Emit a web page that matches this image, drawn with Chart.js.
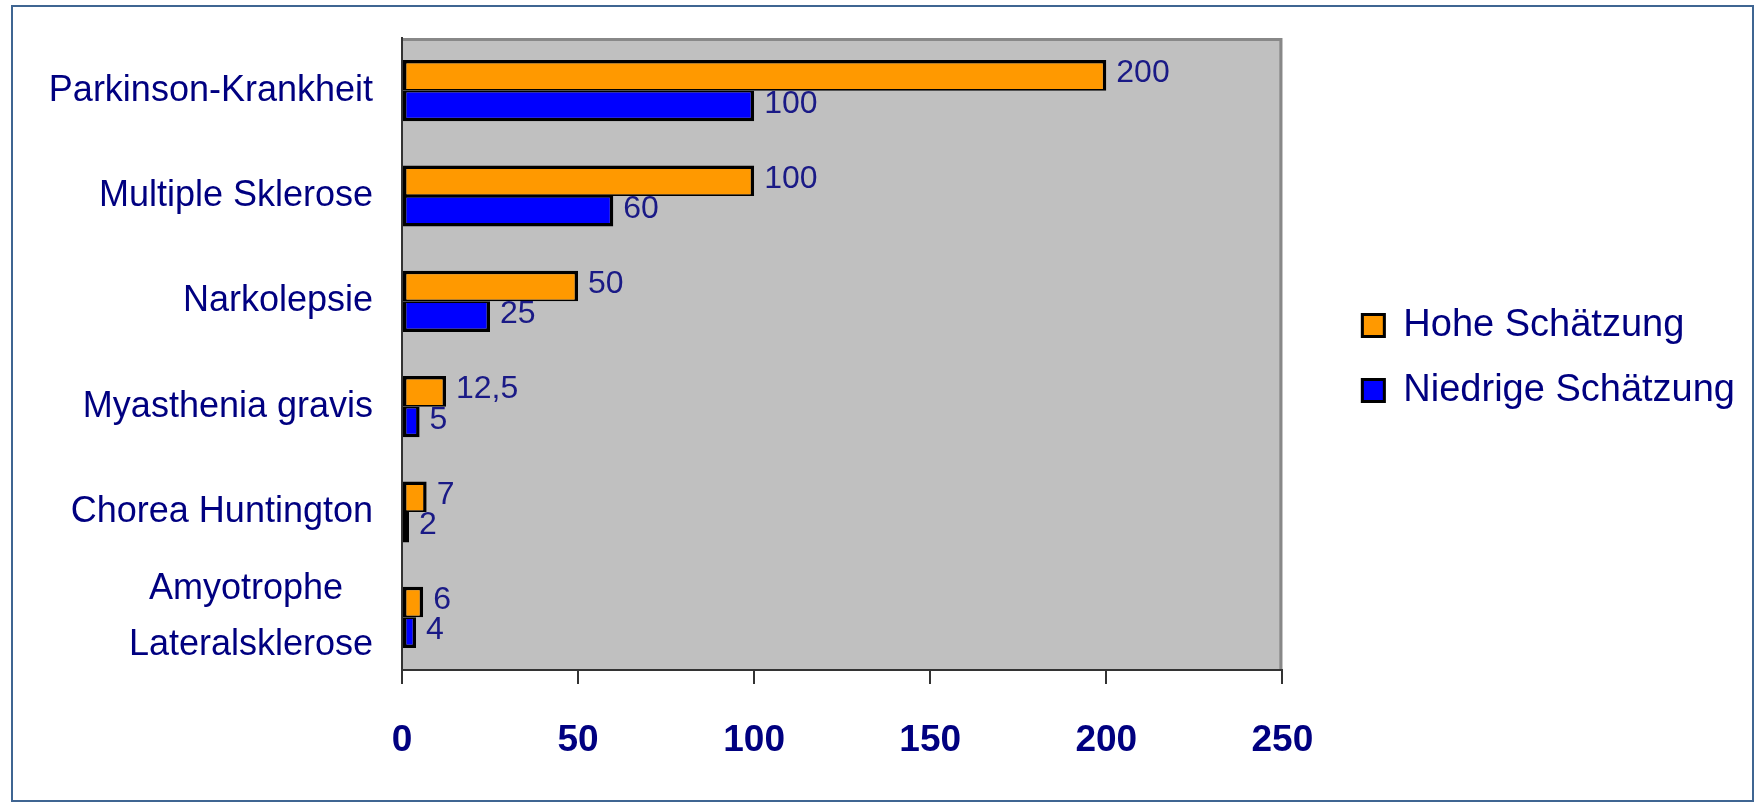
<!DOCTYPE html>
<html>
<head>
<meta charset="utf-8">
<title>Schätzungen</title>
<script src="https://cdn.jsdelivr.net/npm/chart.js@4/dist/chart.umd.min.js"></script>
<style>
  html, body { margin: 0; padding: 0; background: #ffffff; }
  #wrap { position: relative; width: 1754px; height: 803px; }
  #diseaseChart { display: block; }
  #frame {
    position: absolute; left: 11px; top: 5px; width: 1739px; height: 793px;
    border: 2px solid #3f6592; pointer-events: none;
  }
</style>
</head>
<body>
<div id="wrap">
  <canvas id="diseaseChart" width="1754" height="803"></canvas>
  <div id="frame"></div>
</div>
<script>
var diseases = [
  "Parkinson-Krankheit",
  "Multiple Sklerose",
  "Narkolepsie",
  "Myasthenia gravis",
  "Chorea Huntington",
  ["Amyotrophe\u00a0\u00a0\u00a0", "Lateralsklerose"]
];
var seriesNames = ["Hohe Schätzung", "Niedrige Schätzung"];
var highEstimate = [200, 100, 50, 12.5, 7, 6];
var lowEstimate = [100, 60, 25, 5, 2, 4];
var xTicks = [0, 50, 100, 150, 200, 250];

var navy = "#000080";
var fontFamily = "'Liberation Sans', Arial, sans-serif";

// grey plot area with a darker edge on top and right
var plotBackground = {
  id: "plotBackground",
  beforeDraw: function(chart) {
    var a = chart.chartArea;
    var ctx = chart.ctx;
    ctx.save();
    ctx.fillStyle = "#c0c0c0";
    ctx.fillRect(a.left, a.top, a.right - a.left, a.bottom - a.top);
    ctx.strokeStyle = "#888888";
    ctx.lineWidth = 3;
    ctx.beginPath();
    ctx.moveTo(a.left, a.top + 1.5);
    ctx.lineTo(a.right - 1.5, a.top + 1.5);
    ctx.lineTo(a.right - 1.5, a.bottom);
    ctx.stroke();
    ctx.restore();
  }
};

// value next to the end of each bar, German decimal comma
var valueLabels = {
  id: "valueLabels",
  afterDatasetsDraw: function(chart) {
    var ctx = chart.ctx;
    ctx.save();
    ctx.font = "32px " + fontFamily;
    ctx.fillStyle = "#1a1a86";
    ctx.textAlign = "left";
    ctx.textBaseline = "middle";
    chart.data.datasets.forEach(function(ds, i) {
      chart.getDatasetMeta(i).data.forEach(function(bar, j) {
        var txt = String(ds.data[j]).replace(".", ",");
        ctx.fillText(txt, bar.x + 10, bar.y - 2);
      });
    });
    ctx.restore();
  }
};

var ctx = document.getElementById("diseaseChart").getContext("2d");

new Chart(ctx, {
  type: "bar",
  data: {
    labels: diseases,
    datasets: [
      {
        label: seriesNames[0],
        data: highEstimate,
        backgroundColor: "#ff9900",
        borderColor: "#000000",
        borderWidth: { top: 3.5, right: 3.5, bottom: 1.75, left: 3.5 },
        borderSkipped: false
      },
      {
        label: seriesNames[1],
        data: lowEstimate,
        backgroundColor: "#0000ff",
        borderColor: "#000000",
        borderWidth: { top: 1.75, right: 3.5, bottom: 3.5, left: 3.5 },
        borderSkipped: false
      }
    ]
  },
  options: {
    indexAxis: "y",
    responsive: false,
    animation: false,
    devicePixelRatio: 1,
    categoryPercentage: 0.58,
    barPercentage: 1.0,
    layout: {
      padding: { left: 47, top: 38, right: 9, bottom: 48 }
    },
    plugins: {
      legend: {
        position: "right",
        fullSize: false,
        maxWidth: 600,
        // empty title only nudges the entries down a little
        title: { display: true, text: "", padding: 0, font: { size: 8, lineHeight: 1 } },
        labels: {
          color: navy,
          font: { size: 38, family: fontFamily },
          boxWidth: 22,
          boxHeight: 22,
          padding: 27
        }
      },
      tooltip: { enabled: false }
    },
    scales: {
      x: {
        type: "linear",
        min: xTicks[0],
        max: xTicks[xTicks.length - 1],
        afterBuildTicks: function(scale) {
          scale.ticks = xTicks.map(function(v) { return { value: v }; });
        },
        afterFit: function(scale) { scale.height = 85; },
        grid: {
          drawOnChartArea: false,
          drawTicks: true,
          tickLength: 14,
          color: "#333333",
          lineWidth: 2
        },
        border: { display: true, color: "#333333", width: 2 },
        ticks: {
          color: navy,
          padding: 35,
          maxRotation: 0,
          font: { size: 37, weight: "bold", family: fontFamily }
        }
      },
      y: {
        afterFit: function(scale) {
          scale.width = 355;
          scale.paddingTop = 0;
          scale.paddingBottom = 0;
        },
        grid: { display: false, drawTicks: false },
        border: { display: true, color: "#333333", width: 2 },
        ticks: {
          color: navy,
          padding: 29,
          autoSkip: false,
          font: { size: 36, family: fontFamily, lineHeight: 1.55 }
        }
      },
      // empty axis that keeps a gap between the plot and the legend
      yGap: {
        type: "linear",
        position: "right",
        display: true,
        grid: { display: false, drawTicks: false },
        border: { display: false },
        ticks: { display: false },
        afterFit: function(scale) { scale.width = 53; }
      }
    }
  },
  plugins: [plotBackground, valueLabels]
});
</script>
</body>
</html>
